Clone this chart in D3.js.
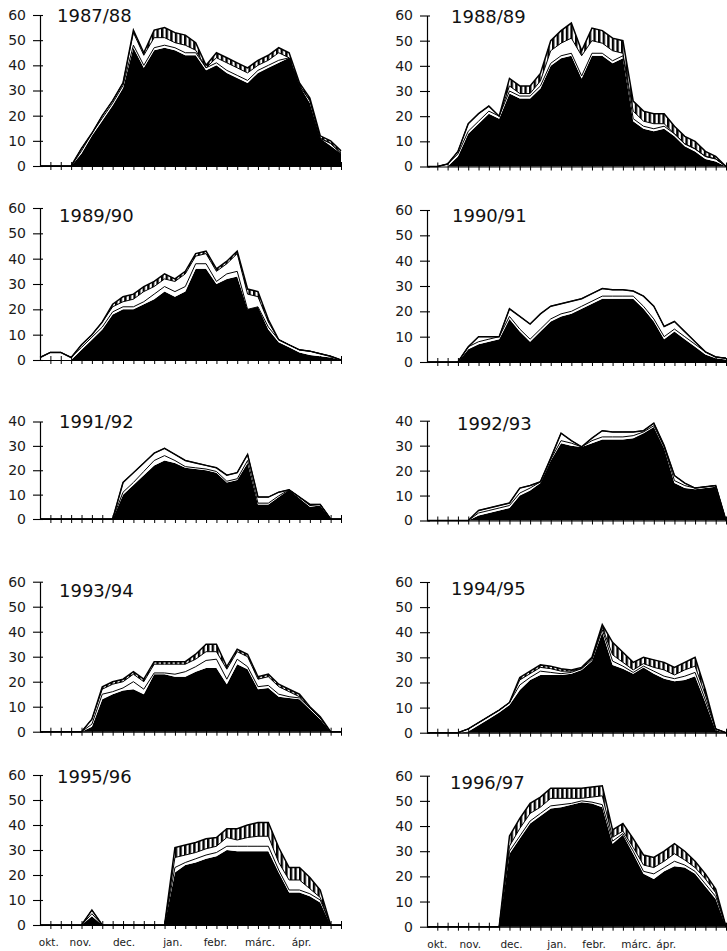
<!DOCTYPE html>
<html><head><meta charset="utf-8">
<script src="https://cdn.jsdelivr.net/npm/d3@7"></script>
<style>body{margin:0;background:#fff}svg{display:block}</style>
</head><body>
<script>
// ---- data ----
const seasons = ["1987/88","1988/89","1989/90","1990/91","1991/92","1992/93","1993/94","1994/95","1995/96","1996/97"];
const yMax = [60,60,60,60,40,40,60,60,60,60];
const weeks = d3.range(30);
const monthLabels = ["okt.","nov.","dec.","jan.","febr.","márc.","ápr."];
const layerKeys = ["black","white1","white2","hatched"];

const black = [
 [0,0,0,0,5,12,18,24,31,47,39,46,47,46,44,44,38,40,37,35,33,37,39,41,43,32,25,11,8,5],
 [0,0,0,4,13,17,21,19,29,27,27,31,40,43,44,35,44,44,41,43,18,15,14,15,12,8,6,3,2,0],
 [0,0,0,0,4,8,12,18,20,20,22,24,27,25,27,36,36,30,32,33,20,21,12,7,5,3,2,1.5,1,0],
 [0,0,0,0,5,7,8,9,17,12,8,12,16,18,19,21,23,25,25,25,25,21,16,9,12,9,6,3,1.5,1],
 [0,0,0,0,0,0,0,0,10,14,18,22,24,23,21,20.5,20,19,15,16,23,6,6,9,12,8.5,5,5.5,0,0],
 [0,0,0,0,0,2,3,4,5,10,12,15,24,31,30,29.5,31,32.5,32.5,32.5,33,35,37.5,29,15,13,12.5,13,13.5,0],
 [0,0,0,0,0,2,13,15,16.5,17,15,23,23,22,22,24,25.5,25.5,19,27,25,17,17.5,14,13.5,13,9,5,0,0],
 [0,0,0,0,0.5,3,5.5,8,11,17,21,23,23,23,23.5,25,28.5,40,27,25.5,23.5,26,23.5,21.5,20.5,21,22.5,12,1,0],
 [0,0,0,0,0,3.5,0,0,0,0,0,0,0,21,24,25,26.5,27.5,30,29.5,29.5,29.5,29.5,21,13,13,11.5,9,0,0],
 [0,0,0,0,0,0,0,0,29,35,41,44,47,47.5,48.5,49.5,49,47.5,33,36.5,29,21,19,22,24,23.5,21,16,11,0]
];
const white1 = [
 [0,0,0,0,1,1,1,1,1,1,1,1,1,1,1,1,1,1,1,1,1,1,1,1,0,0,1,0,1,0],
 [0,0,1,1,1,1,1,1,1,1,1,1,1,1,1,1,1,1,1,1,1,1,1,1,1,1,1,1,1,0],
 [1,3,3,1,1,1,1,1,1,1,1,2,2,2,2,2,2,1,2,2,0,0,1,1,1,1,1.5,1,0.5,0],
 [0,0,0,0,1,1,1,1,1,1,1,1,1,1,1,1,1,1,1,1,1,1,1,1,1,1,1,1,0.5,0.5],
 [0,0,0,0,0,0,0,0,1,1,1.5,2,2,1,0.5,0.5,0.5,0.5,0.5,0.5,1,0.5,0.5,0.5,0,0.5,0.5,0.5,0,0],
 [0,0,0,0,0,1,1,1,1,1,1,0.5,0.5,1,1,0,1,1,1,1,1,0.5,0.5,0.5,1,1,0.5,0.5,0.5,0],
 [0,0,0,0,0,1,2,1,1,3,2,0.5,0.5,1,2,2,3,3.5,2,2,1,1,1,1,0.5,0.5,0.5,0.5,0,0],
 [0,0,0,0,1,1,1,1,1,2,1,1.5,1,0.5,0.5,0.5,0.5,1,1.5,1,0.5,0.5,1,1,1,1.5,1.5,1,0.5,0],
 [0,0,0,0,0,1,0,0,0,0,0,0,0,2,1,1.5,1.5,1.5,1.5,2,2,2,2,1,1,1,1,1,0,0],
 [0,0,0,0,0,0,0,0,1,1,1,1,1,1,0.5,0.5,0.5,1,1,0.5,1,1,2,1.5,2,1,1,1,1,0]
];
const white2 = [
 [0,0,0,0,1,0,1,1,1,5,4,4,3,2,3,1,0,2,3,3,3,2,2,3,0,0,0,0,0,0],
 [0,0,0,1,3,3,2,0,2,1,1,2,5,5,6,8,5,4,4,1,3,2,2,1,0,0,0,0,0,0],
 [0,0,0,0,1,1,2,2,2,3,4,3,3,4,5,3,4,4,4,7,6,4,2,0,0,0,0,0,0,0],
 [0,0,0,0,0,2,1,0,3,5,6,6,5,4,4,3,3,3,2.5,2.5,2,4,5,4,3,2,1,0,0,0],
 [0,0,0,0,0,0,0,0,4,4,3.5,3,3,2.5,2.5,2,1.5,1.5,2.5,2.5,2.5,2.5,2.5,1.5,0,0,0.5,0,0,0],
 [0,0,0,0,0,1,1,1,1,2,1,0,0.5,3,1,0,1,2.5,2,2,1.5,0.5,1,0.5,2,1,0,0,0,0],
 [0,0,0,0,0,2,2,3,2.5,3,3,3.5,3.5,4,3,3,3.5,3,4,3,4,3,3.5,3,2,0.5,0,0,0,0],
 [0,0,0,0,0,0,0,0,0,2,1.5,1.5,1.5,1,0.5,0,0.5,1,2.5,1.5,1,1,1.5,2.5,1.5,2.5,2.5,2,0,0],
 [0,0,0,0,0,1.5,0,0,0,0,0,0,0,4,3,2.5,2.5,2.5,3.5,2.5,3.5,4,4,3,4,4,2,1,0,0],
 [0,0,0,0,0,0,0,0,2,3,3,2.5,3,2.5,2,1,2,3.5,1.5,1,1.5,2.5,2.5,2.5,3,2,1.5,2,1.5,0]
];
const hatched = [
 [0,0,0,0,0,0,0,0,0,1,1,3,4,4,4,3,1,2,2,2,2,2,2,2,2,1,1,1,1,1],
 [0,0,0,0,0,0,0,0,3,3,3,3,4,5,6,2,5,5,5,5,4,4,4,4,3,3,3,2,1,0],
 [0,0,0,0,0,0,0,1,2,2,2,2,2,1,1,1,1,1,1,1,2,2,1,0,0,0,0,0,0,0],
 [0,0,0,0,0,0,0,0,0,0,0,0,0,0,0,0,0,0,0,0,0,0,0,0,0,0,0,0,0,0],
 [0,0,0,0,0,0,0,0,0,0,0,0,0,0,0,0,0,0,0,0,0,0,0,0,0,0,0,0,0,0],
 [0,0,0,0,0,0,0,0,0,0,0,0,0,0,0,0,0,0,0,0,0,0,0,0,0,0,0,0,0,0],
 [0,0,0,0,0,0,1,1,1,1,1,1,1,1,1,2,3,3,1,1,1,1,1,1,1,1,0.5,0.5,0,0],
 [0,0,0,0,0,0,0,0,0,1,1,1,1,1,0.5,0.5,0.5,1,5,4,3,2.5,3,3,3,3,3.5,2,0,0],
 [0,0,0,0,0,0,0,0,0,0,0,0,0,4,4,4,4,3.5,3.5,4.5,5,5.5,5.5,6,5,5,4.5,3,0,0],
 [0,0,0,0,0,0,0,0,4,4,4,4,4,4,4,4,4,4,3,3,3.5,4,4,4,4,3.5,2.5,2,1.5,0]
];

// ---- layout ----
const colX = [[40,341],[427,726]];
const rowY = [[166,15],[166.5,15.5],[360,208],[362,210],[519,421.5],[520.5,420.7],[731.7,581.7],[732.7,582],[925,775],[926.7,775.7]];
const titlePos = [[57,22],[451,23],[59,222],[452,222],[59,428],[457,430],[59,597],[451,595],[57,783],[450,789]];
const monthPos = [[0.85,3.9,8.1,12.8,16.9,21.2,25.2],[1.0,4.2,8.2,12.6,16.2,20.3,23.2]];

const svg = d3.select("body").append("svg").attr("width",727).attr("height",951)
  .style("font-family","'DejaVu Sans', sans-serif");
svg.append("rect").attr("width",727).attr("height",951).attr("fill","#fff");

const defs = svg.append("defs");
const pat = defs.append("pattern").attr("id","hatch").attr("patternUnits","userSpaceOnUse")
  .attr("width",4.6).attr("height",4);
pat.append("rect").attr("width",4.6).attr("height",4).attr("fill","#fff");
pat.append("rect").attr("width",2.4).attr("height",4).attr("fill","#000");

const fills = {black:"#000", white1:"#fff", white2:"#fff", hatched:"url(#hatch)"};
const layerData = {black, white1, white2, hatched};

seasons.forEach((season, p) => {
  const col = p % 2;
  const x = d3.scaleLinear().domain([0, 29]).range(colX[col]);
  const y = d3.scaleLinear().domain([0, yMax[p]]).range(rowY[p]);
  const g = svg.append("g");

  const rows = weeks.map(i => {
    const r = {week: i};
    layerKeys.forEach(k => r[k] = layerData[k][p][i]);
    return r;
  });
  const stacked = d3.stack().keys(layerKeys)(rows);

  const area = d3.area().x(d => x(d.data.week)).y0(d => y(d[0])).y1(d => y(d[1]));
  const topLine = d3.line().x(d => x(d.data.week)).y(d => y(d[1]));

  g.selectAll("path.area").data(stacked).join("path")
    .attr("class","area")
    .attr("d", area)
    .attr("fill", d => fills[d.key])
    .attr("stroke","none");

  g.selectAll("path.edge").data(stacked.slice(1)).join("path")
    .attr("class","edge")
    .attr("d", topLine)
    .attr("fill","none")
    .attr("stroke","#000")
    .attr("stroke-width", (d,i) => i === 2 ? 1.5 : 1)
    .attr("stroke-linejoin","miter");

  // y axis
  const ticks = d3.range(0, yMax[p] + 1, 10);
  const ya = g.append("g").attr("transform", `translate(${colX[col][0]},0)`)
    .call(d3.axisLeft(y).tickValues(ticks).tickSizeInner(7).tickSizeOuter(0).tickPadding(7));
  ya.select(".domain").attr("stroke","#000").attr("stroke-width",1.2);
  ya.selectAll(".tick line").attr("x1", 3).attr("stroke","#000").attr("stroke-width",1.1);
  ya.selectAll(".tick text").attr("font-size",14).attr("fill","#1a1a1a")
    .attr("font-family","'DejaVu Sans', sans-serif");

  // x axis
  const xa = g.append("g").attr("transform", `translate(0,${rowY[p][0]})`)
    .call(d3.axisBottom(x).tickValues(d3.range(1,30)).tickSize(4).tickSizeOuter(0).tickFormat(""));
  xa.select(".domain").attr("stroke","#000").attr("stroke-width",1.2);
  xa.selectAll(".tick line").attr("y1", -4).attr("stroke","#000").attr("stroke-width",1);

  // title
  g.append("text").attr("x", titlePos[p][0]).attr("y", titlePos[p][1])
    .attr("font-size",18).attr("fill","#111").text(season);

  // month labels on bottom row
  if (p >= 8) {
    g.selectAll("text.month").data(monthLabels).join("text")
      .attr("class","month")
      .attr("x", (d,i) => x(monthPos[col][i]))
      .attr("y", rowY[p][0] + 21)
      .attr("text-anchor","middle")
      .attr("font-size",10.5)
      .attr("fill","#1a1a1a")
      .text(d => d);
  }
});
</script>
</body></html>
